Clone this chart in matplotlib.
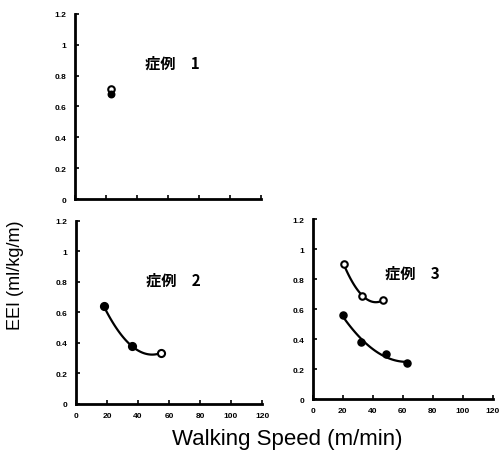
import numpy as np
import matplotlib
matplotlib.use('Agg')
import matplotlib.pyplot as plt

plt.rcParams['font.family'] = ['Liberation Sans', 'Noto Sans CJK JP', 'DejaVu Sans']

# data
case1_speed_open = [23]
case1_eei_open = [0.715]
case1_speed_fill = [23]
case1_eei_fill = [0.68]

case2_speed = [18, 36, 55]
case2_eei = [0.64, 0.38, 0.335]
case2_filled = [True, True, False]

case3a_speed = [20.5, 33, 47]
case3a_eei = [0.90, 0.69, 0.66]

case3b_speed = [20, 32, 49, 63]
case3b_eei = [0.56, 0.38, 0.30, 0.24]

x_ticks = [0, 20, 40, 60, 80, 100, 120]
y_ticks = [0, 0.2, 0.4, 0.6, 0.8, 1.0, 1.2]
y_ticklabels = ['0', '0.2', '0.4', '0.6', '0.8', '1', '1.2']
titles = ['症例　1', '症例　2', '症例　3']

fig = plt.figure(figsize=(5.03, 4.52), dpi=100)
ax1 = fig.add_axes([0.149, 0.5575, 0.370, 0.4095])
ax2 = fig.add_axes([0.151, 0.104, 0.370, 0.405])
ax3 = fig.add_axes([0.622, 0.115, 0.358, 0.398])


def style(ax, xlabels=True):
    ax.set_xlim(0, 120)
    ax.set_ylim(0, 1.2)
    for s in ['top', 'right']:
        ax.spines[s].set_visible(False)
    for s in ['left', 'bottom']:
        ax.spines[s].set_linewidth(2)
    ax.set_xticks(x_ticks)
    ax.set_yticks(y_ticks)
    ax.set_yticklabels(y_ticklabels)
    if xlabels:
        ax.set_xticklabels([str(v) for v in x_ticks])
    else:
        ax.set_xticklabels([])
    ax.tick_params(direction='in', length=3, width=1.2, labelsize=6, pad=6)
    for lab in ax.get_xticklabels() + ax.get_yticklabels():
        lab.set_fontweight('bold')


def smooth(ax, xs, ys):
    # smooth curve through the measured points
    c = np.polyfit(xs, ys, 2)
    xx = np.linspace(min(xs), max(xs), 60)
    ax.plot(xx, np.polyval(c, xx), color='black', lw=1.6, zorder=2)


style(ax1, xlabels=False)
ax1.scatter(case1_speed_open, case1_eei_open, s=22, facecolor='white', edgecolor='black', lw=1.5, zorder=3)
ax1.scatter(case1_speed_fill, case1_eei_fill, s=22, color='black', zorder=3)
ax1.text(45, 0.85, titles[0], fontsize=11, fontweight='bold', family=['Noto Sans CJK JP'])

style(ax2)
smooth(ax2, case2_speed, case2_eei)
for x, y, f in zip(case2_speed, case2_eei, case2_filled):
    ax2.scatter([x], [y], s=26, facecolor='black' if f else 'white', edgecolor='black', lw=1.5, zorder=3)
ax2.text(45, 0.78, titles[1], fontsize=11, fontweight='bold', family=['Noto Sans CJK JP'])

style(ax3)
smooth(ax3, case3a_speed, case3a_eei)
smooth(ax3, case3b_speed, case3b_eei)
ax3.scatter(case3a_speed, case3a_eei, s=22, facecolor='white', edgecolor='black', lw=1.5, zorder=3)
ax3.scatter(case3b_speed, case3b_eei, s=26, color='black', zorder=3)
ax3.text(48, 0.81, titles[2], fontsize=11, fontweight='bold', family=['Noto Sans CJK JP'])

fig.text(0.03, 0.39, 'EEI (ml/kg/m)', rotation=90, fontsize=13, va='center', ha='center')
fig.text(0.571, 0.027, 'Walking Speed (m/min)', fontsize=16, ha='center', va='center')

fig.savefig('out.png', dpi=100)
